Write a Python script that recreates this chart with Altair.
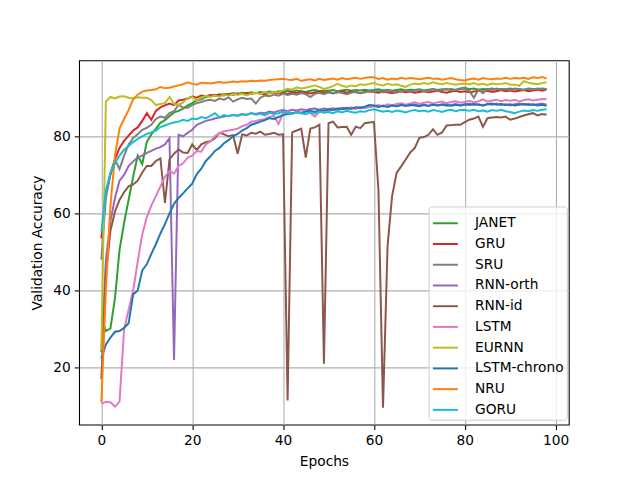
import altair as alt
import pandas as pd

epochs = list(range(99))
models = ["JANET", "GRU", "SRU", "RNN-orth", "RNN-id", "LSTM", "EURNN", "LSTM-chrono", "NRU", "GORU"]
colors = ["#2ca02c", "#d62728", "#7f7f7f", "#9467bd", "#8c564b", "#e377c2", "#bcbd22", "#1f77b4", "#ff7f0e", "#17becf"]

janet = [33.0, 29.5, 30.2, 38.0, 50.5, 57.5, 63.5, 69.5, 75.0, 72.8,
         78.5, 80.5, 82.0, 83.5, 84.2, 85.2, 86.2, 86.6, 87.2, 88.0,
         88.6, 89.3, 89.6, 90.2, 90.5, 90.8, 90.6, 91.0, 90.9, 91.2,
         91.0, 91.3, 91.1, 91.4, 91.2, 91.5, 91.3, 91.6, 91.4, 91.7,
         91.5, 91.8, 91.6, 91.9, 91.7, 91.5, 91.8, 92.0, 91.7, 91.9,
         91.8, 92.0, 91.7, 91.9, 92.1, 91.8, 92.0, 91.9, 92.1, 91.9,
         92.0, 92.2, 91.9, 92.1, 91.8, 92.0, 92.2, 91.9, 92.1, 92.0,
         92.2, 91.9, 92.1, 92.3, 92.0, 92.2, 92.1, 92.3, 92.0, 92.4,
         92.6, 92.2, 92.4, 92.1, 92.3, 92.2, 92.4, 92.1, 92.3, 92.2,
         92.4, 92.2, 92.3, 92.1, 92.4, 92.3, 92.2, 92.4, 92.3]

gru = [53.5, 65.0, 70.0, 74.0, 77.0, 78.8, 80.2, 81.5, 82.3, 84.0,
       86.0, 84.3, 86.6, 87.5, 88.0, 88.5, 88.1, 89.3, 89.5, 89.8,
       90.3, 90.0, 90.6, 90.4, 90.7, 90.5, 90.9, 90.6, 91.0, 90.8,
       91.1, 90.9, 91.2, 91.0, 91.3, 91.1, 90.9, 91.2, 91.4, 91.1,
       91.3, 91.0, 91.4, 91.2, 91.5, 91.3, 91.1, 91.4, 91.6, 91.3,
       91.5, 91.2, 91.4, 91.7, 91.3, 91.6, 91.4, 91.2, 91.5, 91.7,
       91.5, 91.3, 91.6, 91.4, 91.2, 91.5, 91.7, 91.4, 91.6, 91.3,
       91.5, 91.7, 91.4, 91.6, 91.8, 91.5, 91.3, 91.6, 91.8, 91.5,
       91.7, 91.4, 91.6, 91.9, 91.6, 91.8, 91.5, 91.7, 92.0, 91.7,
       91.9, 91.6, 91.8, 92.0, 91.7, 91.9, 92.1, 91.8, 92.1]

sru = [48.0, 64.0, 70.5, 74.0, 71.5, 74.9, 77.9, 79.6, 80.5, 81.7,
       82.2, 83.0, 84.5, 85.1, 84.8, 86.0, 86.5, 88.2, 87.4, 87.4,
       88.1, 88.6, 88.9, 89.3, 89.5, 89.2, 89.8, 89.5, 90.1, 89.0,
       89.6, 90.0, 89.7, 89.8, 88.5, 90.0, 90.6, 90.4, 90.8, 90.5,
       91.1, 90.7, 91.0, 90.8, 91.2, 90.9, 90.2, 91.0, 91.3, 90.9,
       91.4, 91.1, 91.5, 91.2, 90.9, 91.3, 91.6, 91.2, 91.4, 91.7,
       91.5, 91.8, 91.4, 91.9, 91.6, 91.3, 91.7, 92.0, 91.6, 91.8,
       92.1, 91.7, 91.9, 92.2, 91.8, 92.0, 92.3, 91.9, 92.1, 92.2,
       92.4, 91.8, 90.0, 92.1, 91.2, 92.3, 92.0, 92.4, 92.1, 92.3,
       92.0, 92.4, 92.2, 92.0, 92.3, 92.1, 92.4, 92.2, 92.3]

rnn_orth = [24.0, 48.0, 58.0, 64.0, 68.5, 70.0, 72.3, 73.5, 74.5, 75.0,
            75.7, 76.2, 76.8, 77.2, 77.9, 79.5, 22.0, 80.4, 80.0, 80.9,
            81.7, 83.0, 83.5, 84.0, 84.3, 84.6, 84.9, 85.1, 85.3, 85.5,
            85.4, 85.8, 85.6, 86.0, 85.8, 86.1, 86.0, 86.4, 86.2, 86.6,
            86.8, 86.5, 86.9, 86.7, 87.0, 86.8, 87.1, 87.2, 86.9, 87.2,
            87.0, 87.3, 87.1, 87.4, 87.2, 87.5, 87.3, 87.6, 87.4, 87.7,
            87.9, 87.6, 88.0, 87.7, 88.1, 87.8, 88.2, 87.9, 88.0, 88.3,
            88.0, 88.2, 87.9, 88.3, 88.0, 88.2, 87.9, 88.1, 88.4, 88.0,
            88.2, 88.5, 88.1, 88.3, 88.0, 88.4, 88.2, 88.5, 88.1, 88.3,
            88.0, 88.3, 88.5, 88.2, 88.4, 88.1, 88.3, 88.5, 88.2]

rnn_id = [17.0, 44.0, 55.5, 60.5, 63.5, 65.5, 67.0, 67.5, 68.5, 70.6,
          72.3, 72.3, 73.6, 74.3, 62.7, 74.0, 75.5, 76.6, 75.8, 75.7,
          77.9, 76.4, 77.9, 78.5, 78.7, 79.5, 80.9, 80.5, 80.0, 80.3,
          75.5, 80.5, 80.2, 80.9, 80.7, 81.2, 80.4, 80.6, 80.9, 80.4,
          80.5, 11.5, 81.0, 81.5, 82.0, 74.5, 82.0, 82.3, 83.0, 21.0,
          83.4, 83.8, 82.3, 82.4, 82.5, 80.4, 82.5, 82.1, 83.4, 83.6,
          83.7, 66.0, 9.6, 51.5, 64.5, 70.5, 72.2, 74.0, 75.8, 77.0,
          79.6, 79.8, 80.4, 81.8, 80.4, 81.0, 82.8, 82.9, 83.0, 83.0,
          83.7, 84.3, 84.6, 85.1, 82.5, 84.7, 84.9, 85.0, 84.9, 85.1,
          84.3, 84.6, 85.0, 85.4, 85.7, 86.0, 85.4, 85.8, 85.6]

lstm = [10.6, 11.1, 11.0, 9.9, 11.2, 29.8, 35.0, 40.0, 47.5, 54.5,
        59.0, 62.0, 64.5, 67.0, 69.5, 71.0, 70.3, 72.3, 73.0, 74.5,
        75.0, 76.2, 76.0, 77.9, 78.7, 80.0, 80.8, 81.3, 81.5, 81.7,
        82.0, 82.6, 83.0, 83.8, 84.0, 84.3, 84.5, 85.0, 85.3, 83.2,
        86.0, 86.3, 85.9, 86.4, 86.2, 86.6, 86.0, 85.1, 86.4, 86.8,
        86.5, 87.0, 86.7, 87.2, 86.9, 87.4, 87.1, 87.5, 87.3, 87.6,
        87.8, 88.1, 87.7, 88.3, 88.0, 88.4, 88.6, 88.2, 88.5, 88.8,
        88.4, 88.7, 88.9, 88.5, 88.8, 89.0, 88.6, 88.9, 89.1, 88.7,
        88.9, 89.2, 88.8, 89.1, 89.6, 89.0, 89.3, 89.5, 89.1, 89.4,
        89.2, 89.5, 89.0, 89.4, 89.6, 89.3, 89.5, 89.7, 89.6]

eurnn = [24.5, 89.0, 90.2, 89.8, 90.3, 90.4, 90.0, 89.8, 90.1, 90.0,
         90.0, 89.4, 88.1, 88.4, 88.6, 90.2, 88.4, 88.1, 88.8, 89.9,
         90.2, 89.4, 90.0, 90.5, 90.2, 90.6, 90.3, 90.8, 90.5, 91.0,
         90.7, 91.0, 90.6, 91.1, 91.3, 91.0, 91.4, 91.2, 91.6, 91.3,
         91.9, 92.3, 92.1, 92.7, 92.4, 92.6, 92.9, 93.2, 92.8, 92.3,
         92.6, 93.0, 93.6, 93.1, 92.8, 93.2, 93.0, 93.5, 93.3, 93.6,
         93.8, 93.4, 93.2, 93.6, 93.3, 93.5, 93.1, 92.8, 93.4, 93.7,
         93.5, 93.8, 93.6, 94.0, 93.7, 93.5, 93.8, 93.6, 93.4, 93.6,
         93.7, 93.5, 93.8, 93.4, 93.6, 93.3, 93.7, 93.5, 93.6, 93.8,
         93.4, 93.4, 93.1, 94.3, 93.9, 93.7, 93.5, 93.8, 94.0]

lstm_chrono = [22.3, 26.0, 27.8, 29.3, 29.5, 30.3, 31.5, 39.0, 40.0, 45.2,
               46.8, 49.5, 52.0, 54.8, 57.2, 60.0, 62.5, 64.0, 65.2, 66.5,
               67.7, 70.2, 71.6, 73.6, 74.8, 76.2, 77.0, 78.2, 79.0, 80.0,
               80.6, 81.5, 82.1, 83.0, 83.4, 83.8, 84.2, 84.7, 84.5, 85.0,
               85.5, 85.8, 86.0, 86.2, 86.0, 86.4, 86.6, 86.3, 86.8, 86.6,
               87.0, 86.8, 87.2, 87.0, 87.4, 87.1, 87.5, 87.3, 87.7, 88.1,
               88.0, 87.7, 87.9, 87.6, 88.0, 87.8, 88.1, 87.9, 88.2, 88.0,
               87.8, 88.1, 87.9, 88.2, 88.0, 88.3, 88.1, 87.9, 88.2, 88.0,
               88.3, 88.1, 88.4, 88.2, 88.0, 88.3, 88.5, 88.2, 88.4, 88.1,
               88.3, 88.0, 88.2, 88.4, 88.1, 88.3, 88.0, 88.2, 87.9]

nru = [11.0, 40.0, 62.0, 75.0, 82.0, 84.5, 86.8, 89.6, 90.8, 91.6,
       91.9, 92.0, 92.2, 92.8, 92.5, 92.6, 92.9, 93.2, 93.5, 94.0,
       93.6, 93.4, 93.9, 93.8, 93.7, 93.9, 94.1, 93.9, 94.0, 94.2,
       94.1, 94.3, 94.2, 94.4, 94.3, 94.5, 94.4, 94.6, 94.7, 94.8,
       94.9, 94.7, 94.6, 94.9, 94.4, 94.6, 94.8, 94.5, 94.9, 94.6,
       94.8, 95.0, 94.7, 95.1, 94.8, 95.0, 95.2, 94.9, 95.1, 95.3,
       95.3, 94.9, 95.1, 94.7, 95.0, 94.8, 95.2, 94.9, 95.1, 95.0,
       94.8, 95.0, 95.2, 94.9, 95.0, 94.7, 94.9, 95.1, 94.8, 94.6,
       94.5, 94.8, 95.0, 94.7, 95.1, 94.9, 94.8, 95.0, 94.9, 95.2,
       94.9, 95.1, 95.0, 95.2, 94.9, 95.3, 95.1, 95.4, 95.0]

goru = [55.0, 66.0, 70.5, 73.0, 75.0, 76.5, 77.5, 78.5, 79.3, 80.0,
        80.6, 81.0, 81.5, 82.4, 82.8, 83.3, 83.6, 83.8, 84.3, 84.0,
        84.6, 84.4, 85.0, 84.7, 85.3, 86.0, 84.9, 85.5, 85.2, 85.6,
        85.3, 85.7, 85.5, 86.0, 85.6, 85.9, 85.4, 86.1, 85.8, 86.0,
        86.4, 86.1, 85.8, 86.3, 86.0, 85.7, 86.2, 85.9, 86.4, 86.1,
        86.3, 86.0, 86.5, 86.2, 86.6, 86.3, 86.1, 86.5, 86.4, 86.8,
        87.0, 86.7, 86.4, 86.6, 86.3, 86.7, 86.5, 86.2, 86.6, 86.8,
        86.5, 86.7, 86.4, 86.8, 86.6, 86.3, 86.7, 86.9, 86.5, 86.8,
        86.8, 86.6, 86.9, 86.5, 86.7, 86.4, 86.8, 86.6, 86.9, 86.5,
        86.3, 86.0, 86.4, 86.7, 86.5, 86.8, 86.6, 86.9, 87.0]

series = [janet, gru, sru, rnn_orth, rnn_id, lstm, eurnn, lstm_chrono, nru, goru]

rows = []
for i, (name, vals) in enumerate(zip(models, series)):
    for e, v in zip(epochs, vals):
        rows.append({"epoch": e, "acc": v, "model": name, "ord": i})
df = pd.DataFrame(rows)

FONT = "DejaVu Sans"

chart = alt.Chart(df).mark_line(strokeWidth=2).encode(
    x=alt.X("epoch:Q", title="Epochs",
            scale=alt.Scale(domain=[-4.9, 102.9], nice=False, zero=False),
            axis=alt.Axis(values=[0, 20, 40, 60, 80, 100], format="d")),
    y=alt.Y("acc:Q", title="Validation Accuracy",
            scale=alt.Scale(domain=[5.2, 99.7], nice=False, zero=False),
            axis=alt.Axis(values=[20, 40, 60, 80], format="d")),
    color=alt.Color("model:N", sort=models,
                    scale=alt.Scale(domain=models, range=colors),
                    legend=alt.Legend(title=None, orient="none", legendX=354, legendY=148,
                                      symbolType="stroke", symbolSize=640, symbolStrokeWidth=2,
                                      labelFont=FONT, labelFontSize=13.9, labelColor="black",
                                      labelOffset=16, rowPadding=0, padding=3,
                                      fillColor="rgba(255,255,255,0.8)", strokeColor="#cccccc",
                                      cornerRadius=3)),
    order=alt.Order("ord:Q"),
).properties(
    width=496, height=369,
    autosize="none",
    padding={"left": 72, "top": 50, "right": 64, "bottom": 53},
).configure_view(
    stroke="black", strokeWidth=1.1
).configure_axis(
    domain=False,
    grid=True, gridColor="#b0b0b0", gridWidth=1.1,
    ticks=True, tickColor="black", tickSize=4.9, tickWidth=1.1,
    labelFont=FONT, labelFontSize=13.9, labelColor="black", labelPadding=4,
    titleFont=FONT, titleFontSize=13.9, titleColor="black", titleFontWeight="normal",
).configure_axisX(titlePadding=8).configure_axisY(titlePadding=8)

chart.save("out.html", embed_options={"renderer": "svg", "actions": False})
